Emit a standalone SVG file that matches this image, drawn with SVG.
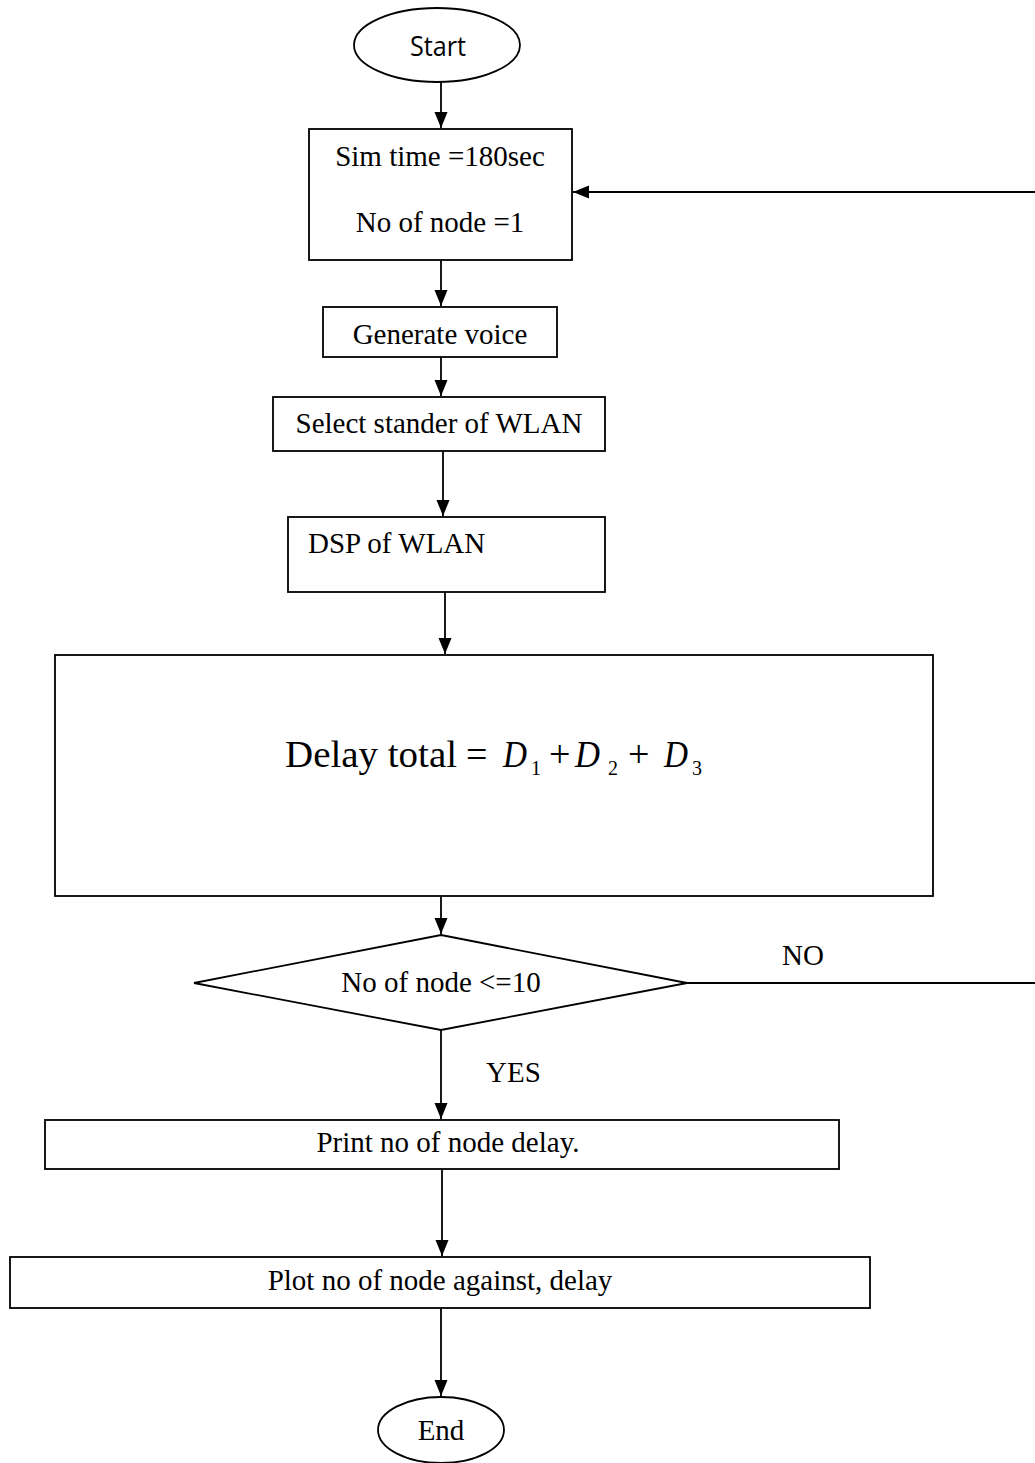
<svg xmlns="http://www.w3.org/2000/svg" width="1035" height="1463" viewBox="0 0 1035 1463">
<style>
.shape{fill:#fff;stroke:#000;stroke-width:1.8}
.line{fill:none;stroke:#000;stroke-width:1.8}
.t{font-family:"Liberation Serif","Times New Roman",serif;font-size:29px;fill:#000}
.c{text-anchor:middle}
.s{font-family:"Open Sans","Liberation Sans",sans-serif;font-size:28px;fill:#000;text-anchor:middle}
.m{font-family:"Liberation Serif",serif;font-size:38px;fill:#000}
.mi{font-family:"Liberation Serif",serif;font-size:38px;font-style:italic;fill:#000}
.sub{font-family:"Liberation Serif",serif;font-size:20px;fill:#000}
</style>
<defs>
<marker id="arr" markerUnits="userSpaceOnUse" markerWidth="16" markerHeight="16" viewBox="0 0 16 16" refX="16" refY="8" orient="auto">
<path d="M0,1.5 L16,8 L0,14.5 Z" fill="#000"/>
</marker>
</defs>
<rect width="1035" height="1463" fill="#fff"/>
<g id="connectors">
<line class="line" x1="441" y1="82" x2="441" y2="128" marker-end="url(#arr)"/>
<line class="line" x1="441" y1="260" x2="441" y2="306" marker-end="url(#arr)"/>
<line class="line" x1="441" y1="357" x2="441" y2="396" marker-end="url(#arr)"/>
<line class="line" x1="443" y1="451" x2="443" y2="516" marker-end="url(#arr)"/>
<line class="line" x1="445" y1="592" x2="445" y2="654" marker-end="url(#arr)"/>
<line class="line" x1="441" y1="896" x2="441" y2="934" marker-end="url(#arr)"/>
<line class="line" x1="441" y1="1030" x2="441" y2="1119" marker-end="url(#arr)"/>
<line class="line" x1="442" y1="1169" x2="442" y2="1256" marker-end="url(#arr)"/>
<line class="line" x1="441" y1="1308" x2="441" y2="1396" marker-end="url(#arr)"/>
<line class="line" x1="687" y1="983" x2="1035" y2="983"/>
<line class="line" x1="1035" y1="192" x2="573" y2="192" marker-end="url(#arr)"/>
<text class="t" x="782" y="965">NO</text>
<text class="t" x="486" y="1082">YES</text>
</g>
<g id="start">
<ellipse class="shape" cx="437" cy="45" rx="83" ry="37"/>
<text class="s" x="438" y="56" textLength="56" lengthAdjust="spacingAndGlyphs">Start</text>
</g>
<g id="init">
<rect class="shape" x="309" y="129" width="263" height="131"/>
<text class="t c" x="440" y="166">Sim time =180sec</text>
<text class="t c" x="440" y="232">No of node =1</text>
</g>
<g id="generate">
<rect class="shape" x="323" y="307" width="234" height="50"/>
<text class="t c" x="440" y="344">Generate voice</text>
</g>
<g id="select">
<rect class="shape" x="273" y="397" width="332" height="54"/>
<text class="t c" x="439" y="433">Select stander of WLAN</text>
</g>
<g id="dsp">
<rect class="shape" x="288" y="517" width="317" height="75"/>
<text class="t" x="308" y="553">DSP of WLAN</text>
</g>
<g id="delay">
<rect class="shape" x="55" y="655" width="878" height="241"/>
<text class="m" x="285" y="767" textLength="172" lengthAdjust="spacingAndGlyphs">Delay total</text>
<text class="m" x="466" y="767">=</text>
<text class="mi" x="503" y="767" textLength="24" lengthAdjust="spacingAndGlyphs">D</text>
<text class="sub" x="531" y="775">1</text>
<text class="m" x="549" y="767">+</text>
<text class="mi" x="575" y="767" textLength="25" lengthAdjust="spacingAndGlyphs">D</text>
<text class="sub" x="608" y="775">2</text>
<text class="m" x="628" y="767">+</text>
<text class="mi" x="664" y="767" textLength="24" lengthAdjust="spacingAndGlyphs">D</text>
<text class="sub" x="692" y="775">3</text>
</g>
<g id="decision">
<polygon class="shape" points="441,935 687,983 441,1030 194,983"/>
<text class="t c" x="441" y="992">No of node &lt;=10</text>
</g>
<g id="print">
<rect class="shape" x="45" y="1120" width="794" height="49"/>
<text class="t c" x="448" y="1152">Print no of node delay.</text>
</g>
<g id="plot">
<rect class="shape" x="10" y="1257" width="860" height="51"/>
<text class="t c" x="440" y="1290">Plot no of node against, delay</text>
</g>
<g id="end">
<ellipse class="shape" cx="441" cy="1430" rx="63" ry="33"/>
<text class="t c" x="441" y="1440">End</text>
</g>
</svg>
